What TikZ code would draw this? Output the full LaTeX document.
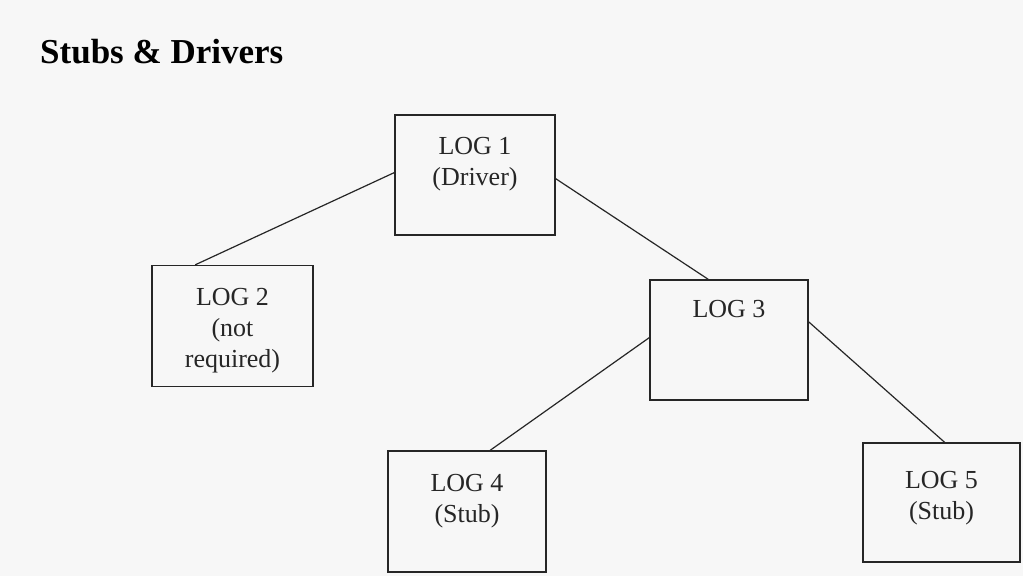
\documentclass[tikz,border=0pt]{standalone}
\usepackage{fontspec}
\setmainfont{Liberation Serif}
\usetikzlibrary{calc}
\begin{document}
\begin{tikzpicture}[x=1pt,y=-1pt,
  logbox/.style={draw=black!85,line width=1.3pt,rectangle,inner sep=0pt},
  logtext/.style={anchor=north,align=center,font=\fontsize{26}{31}\selectfont,inner sep=0pt,text=black!85},
  link/.style={draw=black!85,line width=1.2pt}]
\fill[black!3] (0,0) rectangle (1023,576);
\useasboundingbox (0,0) rectangle (1023,576);
\node[anchor=base west,inner sep=0pt,font=\fontsize{35}{40}\selectfont\bfseries] (title) at (40,63) {Stubs \& Drivers};
% boxes
\node[logbox,minimum width=160pt,minimum height=120pt] (log1) at (475,175) {};
\node[logbox,minimum width=161pt,minimum height=121pt] (log2) at (232.5,326) {};
\node[logbox,minimum width=158pt,minimum height=120pt] (log3) at (729,340) {};
\node[logbox,minimum width=158pt,minimum height=121pt] (log4) at (467,511.5) {};
\node[logbox,minimum width=157pt,minimum height=119pt] (log5) at (941.5,502.5) {};
% texts
\node[logtext] (t1) at (475,137) {LOG 1\\(Driver)};
\node[logtext] (t2) at (232.5,288) {LOG 2\\(not\\required)};
\node[logtext] (t3) at (729,300) {LOG 3};
\node[logtext] (t4) at (467,474) {LOG 4\\(Stub)};
\node[logtext] (t5) at (941.5,471) {LOG 5\\(Stub)};
% connectors
\draw[link] ($(log1.north west)!0.48!(log1.south west)$) -- ($(log2.north west)!0.27!(log2.north east)$);
\draw[link] ($(log1.north east)!0.53!(log1.south east)$) -- ($(log3.north west)!0.37!(log3.north east)$);
\draw[link] ($(log3.north west)!0.48!(log3.south west)$) -- ($(log4.north west)!0.645!(log4.north east)$);
\draw[link] ($(log3.north east)!0.35!(log3.south east)$) -- ($(log5.north west)!0.52!(log5.north east)$);
\end{tikzpicture}
\end{document}
